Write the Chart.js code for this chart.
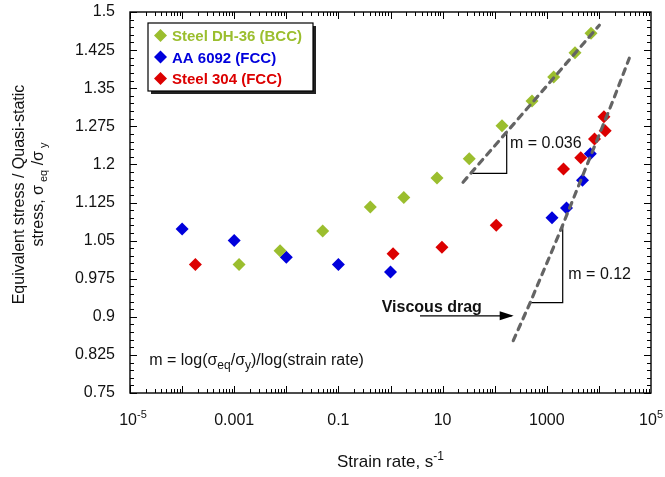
<!DOCTYPE html>
<html>
<head>
<meta charset="utf-8">
<script src="https://cdn.jsdelivr.net/npm/chart.js@4.4.1/dist/chart.umd.min.js"></script>
<style>
  html, body { margin: 0; padding: 0; background: #fff; }
  #wrap { width: 665px; height: 477px; }
</style>
</head>
<body>
<div id="wrap"><canvas id="myChart"></canvas></div>
<script>
// --- dados ---
const dh36Rate   = [0.00124, 0.0076, 0.05, 0.41, 1.8, 7.8, 32.5, 138, 520, 1355, 3480, 7050];
const dh36Stress = [1.003, 1.030, 1.069, 1.116, 1.135, 1.173, 1.211, 1.276, 1.325, 1.372, 1.420, 1.458];

const aa6092Rate   = [0.0001, 0.001, 0.01, 0.1, 1, 1260, 2390, 4840, 6840];
const aa6092Stress = [1.073, 1.050, 1.017, 1.003, 0.988, 1.095, 1.114, 1.169, 1.221];

const ss304Rate   = [0.00018, 1.12, 9.7, 107, 2090, 4480, 8240, 12500, 13200];
const ss304Stress = [1.003, 1.024, 1.037, 1.080, 1.191, 1.213, 1.250, 1.294, 1.266];

// linhas de tendência (tracejadas)
const fitBccRate   = [24.7, 520, 10200];
const fitBccStress = [1.165, 1.321, 1.474];
const fitFccRate   = [227, 475, 1690, 18900, 38300];
const fitFccStress = [0.853, 0.927, 1.061, 1.327, 1.409];

// triângulos de inclinação e seta
const tri1Rate   = [170, 170, 33.6];
const tri1Stress = [1.266, 1.1825, 1.1825];
const tri2Rate   = [2020, 2020, 476];
const tri2Stress = [1.081, 0.928, 0.928];
const arrowRate   = [3.68, 212];
const arrowStress = [0.902, 0.902];

const seriesNames  = ['Steel DH-36 (BCC)', 'AA 6092 (FCC)', 'Steel 304 (FCC)'];
const seriesColors = ['#9bbe2e', '#0000dc', '#dc0000'];

const xTickValues = [1e-5, 1e-3, 1e-1, 1e1, 1e3, 1e5];
const xTickLabels = ['10^-5', '0.001', '0.1', '10', '1000', '10^5'];
const yTickValues = [0.75, 0.825, 0.9, 0.975, 1.05, 1.125, 1.2, 1.275, 1.35, 1.425, 1.5];
const yTickLabels = ['0.75', '0.825', '0.9', '0.975', '1.05', '1.125', '1.2', '1.275', '1.35', '1.425', '1.5'];

const FONT = '"Liberation Sans", Arial, sans-serif';
const pts = (xs, ys) => xs.map((v, i) => ({ x: v, y: ys[i] }));

function scatterSet(i, xs, ys) {
  return {
    type: 'scatter', label: seriesNames[i], data: pts(xs, ys),
    pointStyle: 'rectRot', pointRadius: 6.5, pointHoverRadius: 6.5,
    backgroundColor: seriesColors[i], borderColor: seriesColors[i], borderWidth: 0, order: 1
  };
}
function lineSet(xs, ys, dashed) {
  return {
    type: 'line', label: '', data: pts(xs, ys), pointRadius: 0, fill: false,
    borderColor: dashed ? '#646464' : '#000', borderWidth: dashed ? 3.2 : 1.2,
    borderDash: dashed ? [6, 6] : [], borderCapStyle: dashed ? 'round' : 'butt',
    tension: 0, order: dashed ? 0 : 2
  };
}

// desenha texto com sub/sobrescrito
function textWidth(ctx, parts) {
  return parts.reduce((s, p) => { ctx.font = (p.bold ? 'bold ' : '') + p.size + 'px ' + FONT; return s + ctx.measureText(p.t).width; }, 0);
}
function richText(ctx, parts, x, y, align) {
  const w = textWidth(ctx, parts);
  let cx = align === 'center' ? x - w / 2 : x;
  ctx.textBaseline = 'alphabetic'; ctx.textAlign = 'left';
  parts.forEach(p => {
    ctx.font = (p.bold ? 'bold ' : '') + p.size + 'px ' + FONT;
    ctx.fillText(p.t, cx, y + (p.dy || 0));
    cx += ctx.measureText(p.t).width;
  });
}

const decoPlugin = {
  id: 'deco',
  afterDraw(chart) {
    const { ctx, chartArea: a, scales: { x, y } } = chart;
    ctx.save();
    ctx.fillStyle = '#000'; ctx.strokeStyle = '#000';

    // ticks p/ dentro nos 4 lados
    ctx.lineWidth = 1;
    ctx.beginPath();
    for (let e = -5; e < 5; e++) {
      for (let k = 1; k <= 9; k++) {
        const px = Math.round(x.getPixelForValue(k * Math.pow(10, e))) + 0.5;
        const len = k === 1 ? 7 : 4;
        ctx.moveTo(px, a.bottom); ctx.lineTo(px, a.bottom - len);
        ctx.moveTo(px, a.top); ctx.lineTo(px, a.top + len);
      }
    }
    for (let i = 0; i <= 50; i++) {
      const py = Math.round(y.getPixelForValue(0.75 + i * 0.015)) + 0.5;
      const len = i % 5 === 0 ? 7 : 4;
      ctx.moveTo(a.left, py); ctx.lineTo(a.left + len, py);
      ctx.moveTo(a.right, py); ctx.lineTo(a.right - len, py);
    }
    ctx.stroke();
    ctx.lineWidth = 1.4;
    ctx.strokeRect(a.left, a.top, a.right - a.left, a.bottom - a.top);

    // rótulos 10^n com sobrescrito
    ctx.fillStyle = '#111';
    xTickLabels.forEach((l, i) => {
      if (!l.includes('^')) return;
      const [b, p] = l.split('^');
      const parts = [{ t: b, size: 16 }, { t: p, size: 11, dy: -7 }];
      const w = textWidth(ctx, parts);
      const cx = Math.min(x.getPixelForValue(xTickValues[i]) + 3, chart.width - w / 2 - 2);
      richText(ctx, parts, cx, a.bottom + 32, 'center');
    });

    // ponta da seta
    ctx.fillStyle = '#000';
    const ax = x.getPixelForValue(arrowRate[1]), ay = y.getPixelForValue(arrowStress[1]);
    ctx.beginPath();
    ctx.moveTo(ax + 2, ay); ctx.lineTo(ax - 12, ay - 4.5); ctx.lineTo(ax - 12, ay + 4.5); ctx.closePath();
    ctx.fill();

    // anotações
    ctx.fillStyle = '#111';
    richText(ctx, [{ t: 'm = 0.036', size: 16 }], x.getPixelForValue(197), y.getPixelForValue(1.2447) + 6, 'left');
    richText(ctx, [{ t: 'm = 0.12', size: 16 }], x.getPixelForValue(2588), y.getPixelForValue(0.9868) + 6, 'left');
    richText(ctx, [{ t: 'Viscous drag', size: 16, bold: true }], x.getPixelForValue(0.678), y.getPixelForValue(0.9218) + 6, 'left');
    richText(ctx, [
      { t: 'm = log(σ', size: 16 }, { t: 'eq', size: 12, dy: 4 }, { t: '/σ', size: 16 },
      { t: 'y', size: 12, dy: 4 }, { t: ')/log(strain rate)', size: 16 }
    ], x.getPixelForValue(2.34e-5), y.getPixelForValue(0.815) + 5, 'left');

    // legenda com sombra
    const lx = a.left + 18, ly = a.top + 11, lw = 165, lh = 68;
    ctx.fillStyle = '#222';
    ctx.fillRect(lx + 3, ly + 3, lw, lh);
    ctx.fillStyle = '#fff';
    ctx.fillRect(lx, ly, lw, lh);
    ctx.lineWidth = 1.2; ctx.strokeStyle = '#000';
    ctx.strokeRect(lx, ly, lw, lh);
    seriesNames.forEach((n, i) => {
      const cy = ly + 12.5 + i * 21.5;
      const cx = lx + 12.5;
      ctx.fillStyle = seriesColors[i];
      ctx.beginPath();
      ctx.moveTo(cx, cy - 6.5); ctx.lineTo(cx + 6.5, cy); ctx.lineTo(cx, cy + 6.5); ctx.lineTo(cx - 6.5, cy); ctx.closePath();
      ctx.fill();
      richText(ctx, [{ t: n, size: 15, bold: true }], lx + 24, cy + 5.5, 'left');
    });

    // títulos dos eixos
    ctx.fillStyle = '#111';
    richText(ctx, [{ t: 'Strain rate, s', size: 17 }, { t: '-1', size: 12, dy: -7 }], (a.left + a.right) / 2, 467, 'center');
    ctx.save();
    ctx.translate(24, (a.top + a.bottom) / 2 - 8);
    ctx.rotate(-Math.PI / 2);
    richText(ctx, [{ t: 'Equivalent stress / Quasi-static', size: 16 }], 0, 0, 'center');
    richText(ctx, [
      { t: 'stress, σ', size: 16 }, { t: ' eq', size: 11, dy: 4 }, { t: ' /σ', size: 16 }, { t: ' y', size: 11, dy: 4 }
    ], 0, 19, 'center');
    ctx.restore();
    ctx.restore();
  }
};

const ctx = document.getElementById('myChart').getContext('2d');
const chart = new Chart(ctx, {
  data: {
    datasets: [
      scatterSet(0, dh36Rate, dh36Stress),
      scatterSet(1, aa6092Rate, aa6092Stress),
      scatterSet(2, ss304Rate, ss304Stress),
      lineSet(fitBccRate, fitBccStress, true),
      lineSet(fitFccRate, fitFccStress, true),
      lineSet(tri1Rate, tri1Stress, false),
      lineSet(tri2Rate, tri2Stress, false),
      lineSet(arrowRate, arrowStress, false)
    ]
  },
  options: {
    responsive: true,
    maintainAspectRatio: false,
    animation: false,
    layout: { padding: { top: 12, right: 14, left: 0, bottom: 0 } },
    plugins: { legend: { display: false }, tooltip: { enabled: false } },
    scales: {
      x: {
        type: 'logarithmic', min: 1e-5, max: 1e5,
        afterBuildTicks: s => { s.ticks = xTickValues.map(v => ({ value: v })); },
        afterFit: s => { s.height = 84; s.paddingLeft = 0; s.paddingRight = 0; },
        grid: { display: false, drawTicks: false },
        border: { display: false },
        ticks: {
          autoSkip: false, maxRotation: 0, padding: 18, color: '#111',
          font: { family: FONT, size: 16 },
          callback: v => {
            const l = xTickLabels[xTickValues.findIndex(t => Math.abs(Math.log10(t) - Math.log10(v)) < 1e-6)];
            return l && l.includes('^') ? '' : l;
          }
        }
      },
      y: {
        type: 'linear', min: 0.75, max: 1.5,
        afterBuildTicks: s => { s.ticks = yTickValues.map(v => ({ value: v })); },
        afterFit: s => { s.width = 130; s.paddingTop = 0; s.paddingBottom = 0; },
        grid: { display: false, drawTicks: false },
        border: { display: false },
        ticks: {
          autoSkip: false, padding: 15, color: '#111',
          font: { family: FONT, size: 16 },
          callback: v => yTickLabels[yTickValues.findIndex(t => Math.abs(t - v) < 1e-6)]
        }
      }
    }
  },
  plugins: [decoPlugin]
});
</script>
</body>
</html>
